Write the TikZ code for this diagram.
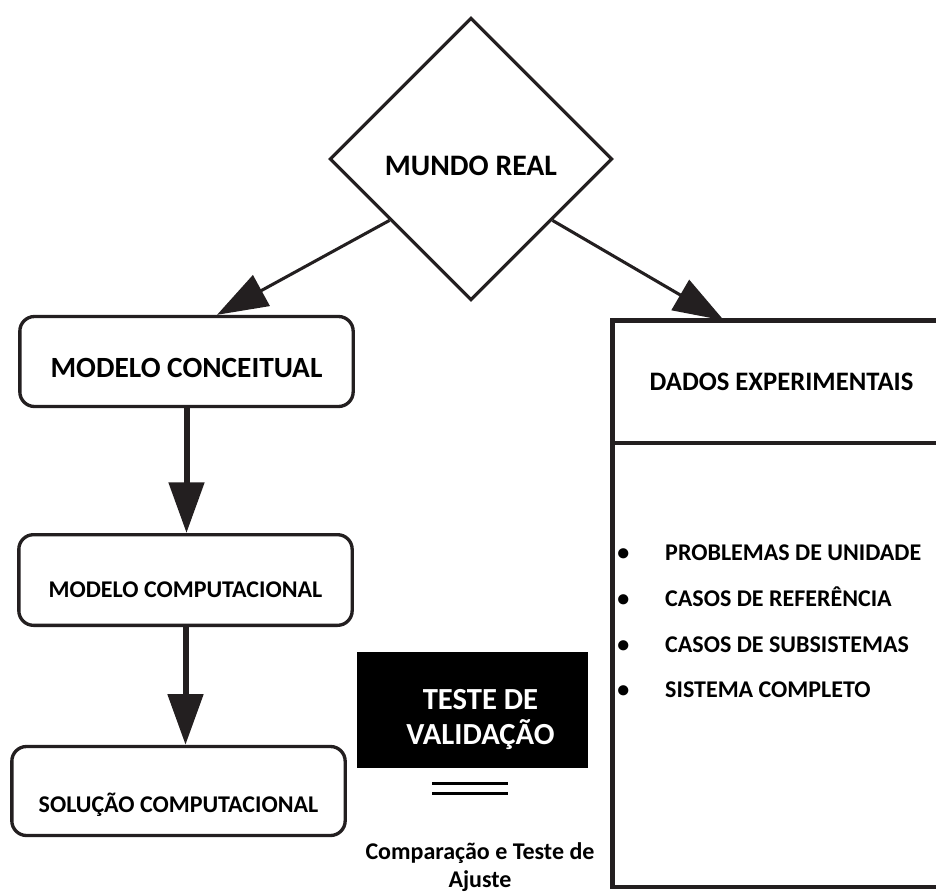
\documentclass[tikz,border=0pt]{standalone}
\usepackage{fontspec}
\setmainfont{Carlito}
\usepackage{tikz}
\usetikzlibrary{shapes.geometric, arrows.meta, calc}

\definecolor{inkline}{RGB}{35,31,32}

\begin{document}
\begin{tikzpicture}[
    x=0.75pt, y=-0.75pt,
    modelbox/.style={draw=inkline, line width=2.5pt, rounded corners=11pt, inner sep=0pt,
        minimum width=250pt, minimum height=68pt, text depth=0pt,
        font=\bfseries\fontsize{18}{22}\selectfont},
    itemtext/.style={anchor=west, inner sep=0pt, text height=11.4pt, text depth=0pt,
        font=\bfseries\fontsize{18}{22}\selectfont},
    thinarr/.style={-{Triangle[length=38pt, width=26pt]}, line width=2.3pt, inkline},
    thickarr/.style={-{Triangle[length=38pt, width=26pt]}, line width=4.5pt, inkline}
]
    \useasboundingbox (0,0) rectangle (936,893);

    % --- MUNDO REAL ---
    \node[diamond, draw=inkline, line width=2.4pt, aspect=1, inner sep=0pt,
        minimum width=212pt, minimum height=212pt, text height=24.6pt, text depth=0pt,
        font=\bfseries\fontsize{22.3}{26}\selectfont] (mundo) at (471,159) {MUNDO REAL};

    % --- COLUNA DA ESQUERDA ---
    \node[modelbox, minimum height=67.5pt, text height=23.7pt,
        font=\bfseries\fontsize{22}{26}\selectfont] (conceitual) at (186.5,361.5) {MODELO CONCEITUAL};
    \node[modelbox, text height=26.4pt] (computacional) at (185.5,580) {MODELO COMPUTACIONAL};
    \node[modelbox, minimum height=66.75pt, text height=32.4pt] (solucao) at (178.5,791) {SOLUÇÃO COMPUTACIONAL};

    % --- DADOS EXPERIMENTAIS (direita) ---
    \node[draw=inkline, line width=3.5pt, inner sep=0pt, outer sep=0pt, minimum width=254pt, minimum height=91.9pt,
        font=\bfseries\fontsize{20}{24}\selectfont] (dados) at (781.5,381.75) {DADOS EXPERIMENTAIS};
    \draw[inkline, line width=3.5pt] (dados.south west) rectangle (952,887);

    \node[itemtext] (item1) at (617,553) {\makebox[36pt][l]{\textbullet}PROBLEMAS DE UNIDADE};
    \node[itemtext] (item2) at (617,599) {\makebox[36pt][l]{\textbullet}CASOS DE REFERÊNCIA};
    \node[itemtext] (item3) at (617,645) {\makebox[36pt][l]{\textbullet}CASOS DE SUBSISTEMAS};
    \node[itemtext] (item4) at (617,690) {\makebox[36pt][l]{\textbullet}SISTEMA COMPLETO};

    % --- TESTE DE VALIDACAO ---
    \node[fill=black, inner sep=0pt, minimum width=173.25pt, minimum height=87pt] (validacao) at (472.5,710) {};
    \node[text=white, align=center, inner sep=0pt,
        font=\bfseries\fontsize{23}{26.25}\selectfont] (validacaotxt) at ($(validacao.center)+(8,10)$) {TESTE DE\\VALIDAÇÃO};

    \draw[line width=2.25pt] ($(validacao.south)+(-40.5,15)$) -- ++(76,0);
    \draw[line width=2.25pt] ($(validacao.south)+(-40.5,25)$) -- ++(76,0);

    \node[align=center, inner sep=0pt, font=\bfseries\fontsize{18}{21}\selectfont] (comparacao) at (480,867)
        {Comparação e Teste de\\Ajuste};

    % --- SETAS ---
    \draw[thinarr] (mundo.217) -- ($(conceitual.north)+(30.5,0)$);
    \draw[thinarr] (mundo.323) -- ($(dados.north)+(-57.5,0)$);

    \draw[thickarr] (conceitual.south) -- (conceitual.south |- computacional.north);
    \draw[thickarr] (computacional.south) -- (computacional.south |- solucao.north);

\end{tikzpicture}
\end{document}
